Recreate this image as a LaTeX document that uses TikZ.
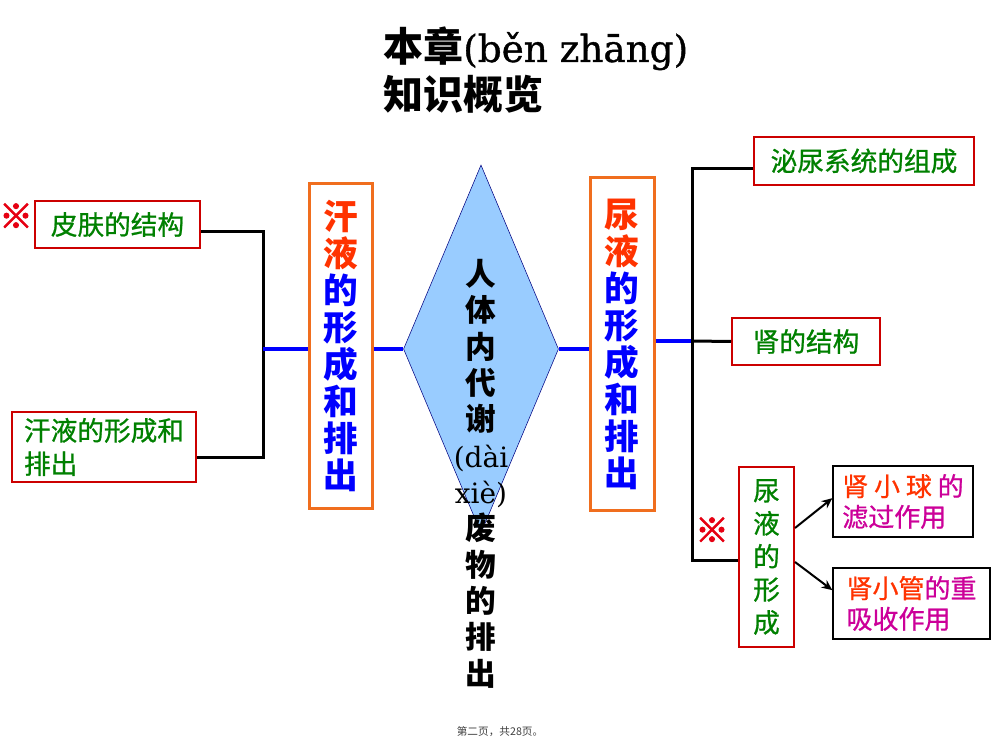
\documentclass[tikz,border=0pt]{standalone}
\usepackage{fontspec}
\setmainfont{DejaVu Serif}
\newfontfamily\pinyin{DejaVu Serif}[FakeBold=1]
\newfontfamily\cjk{Noto Sans CJK SC}
\newfontfamily\cjkheavy{Noto Sans CJK SC}[FakeBold=0.8]
\newfontfamily\cjkmark{Noto Sans CJK SC}[FakeBold=3]
\usetikzlibrary{arrows.meta,shapes.geometric}

\definecolor{boxred}{RGB}{204,0,0}
\definecolor{leafgreen}{RGB}{0,128,0}
\definecolor{boxorange}{RGB}{240,110,30}
\definecolor{hotred}{RGB}{255,51,0}
\definecolor{deepblue}{RGB}{0,0,255}
\definecolor{plum}{RGB}{204,0,153}
\definecolor{paleblue}{RGB}{153,204,255}
\definecolor{rimblue}{RGB}{0,0,128}
\definecolor{notered}{RGB}{230,0,18}

\tikzset{
  greenbox/.style={draw=boxred, line width=1.5pt, text=leafgreen, inner sep=0pt,
    font=\cjkheavy\fontsize{20}{25}\selectfont},
  bandbox/.style={draw=boxorange, line width=2.25pt, text=deepblue, inner sep=0pt,
    align=center, font=\cjk\bfseries\fontsize{26}{27.75}\selectfont},
  leafbox/.style={draw=black, line width=1pt, text=plum, inner sep=0pt, align=left,
    font=\cjkheavy\fontsize{19.5}{23}\selectfont},
  trunk/.style={draw=deepblue, line width=3pt},
  twig/.style={draw=black, line width=2.25pt},
  pointer/.style={draw=black, line width=1.5pt, -{Stealth[length=8pt,width=7pt]}},
  notemark/.style={text=notered, inner sep=0pt, font=\cjkmark\fontsize{25}{25}\selectfont},
}

\begin{document}
\begin{tikzpicture}[x=0.75pt,y=-0.75pt]
  \path[fill=white] (0,0) rectangle (993,745);
  \useasboundingbox (0,0) rectangle (993,745);

  % title
  \node[anchor=north west, align=left, inner sep=0pt, font=\fontsize{30}{36}\selectfont]
    (title) at (383,27) {{\cjk\bfseries 本章}{\pinyin\fontsize{28}{36}\selectfont(běn zhāng)}\\{\cjk\bfseries 知识概览}};

  % left side
  \node[notemark] (lmark) at (16,216) {※};
  \node[greenbox, minimum width=123.75pt, minimum height=35.25pt] (skin) at (117.5,224.5) {皮肤的结构};
  \node[greenbox, align=left, minimum width=138pt, minimum height=52.5pt] (sweat) at (104,447) {汗液的形成和\\排出};
  \node[bandbox, minimum width=47.25pt, minimum height=243.75pt] (lband) at (340.5,346)
    {\textcolor{hotred}{汗}\\\textcolor{hotred}{液}\\的\\形\\成\\和\\排\\出};

  % centre
  \node[shape=diamond, draw=rimblue, fill=paleblue, inner sep=0pt,
    minimum width=116.25pt, minimum height=276pt] (core) at (481,349) {};
  \node[anchor=north, align=center, inner sep=0pt, font=\cjk\bfseries\fontsize{23}{27.25}\selectfont]
    (coretext) at (481,259)
    {人\\体\\内\\代\\谢\\{\rmfamily\mdseries\fontsize{21}{27.25}\selectfont (dài}\\{\rmfamily\mdseries\fontsize{21}{27.25}\selectfont xiè)}\\废\\物\\的\\排\\出};

  % right side
  \node[bandbox, minimum width=48pt, minimum height=250pt] (rband) at (622,344)
    {\textcolor{hotred}{尿}\\\textcolor{hotred}{液}\\的\\形\\成\\和\\排\\出};
  \node[greenbox, minimum width=165pt, minimum height=36pt] (urinary) at (864,161) {泌尿系统的组成};
  \node[greenbox, minimum width=111pt, minimum height=35.25pt] (kidney) at (806,341.5) {肾的结构};
  \node[greenbox, align=center, minimum width=41.25pt, minimum height=135pt,
    font=\cjkheavy\fontsize{20}{24.75}\selectfont] (rform) at (766.5,557) {尿\\液\\的\\形\\成};
  \node[notemark] (rmark) at (712,530) {※};
  \node[leafbox, minimum width=105pt, minimum height=53.25pt] (glom) at (903,501.5)
    {\textcolor{hotred}{肾 小 球} 的\\滤过作用};
  \node[leafbox, minimum width=117.75pt, minimum height=53.25pt] (tubule) at (911.5,603.5)
    {\textcolor{hotred}{肾小管}的重\\吸收作用};

  % connectors
  \coordinate (lhub) at (263,349);
  \coordinate (rhub) at (692,341);
  \draw[twig] ([yshift=-5.5pt]skin.east) -| (lhub) |- ([yshift=-8pt]sweat.east);
  \draw[trunk] (lhub) -- (lhub -| lband.west);
  \draw[trunk] (lband.east |- core.west) -- (core.west);
  \draw[trunk] (core.east) -- (core.east -| rband.west);
  \draw[trunk] (rhub -| rband.east) -- (rhub);
  \draw[twig] ([yshift=-6pt]urinary.west) -| (rhub) |- ([yshift=-2.25pt]rform.west);
  \draw[twig] (rhub) -- (kidney.west);
  \draw[pointer] ([yshift=21.75pt]rform.east) -- ([yshift=2.5pt]glom.west);
  \draw[pointer] ([yshift=-3.75pt]rform.east) -- ([yshift=10pt]tubule.west);

  % footer
  \node[text=black!75, inner sep=0pt, font=\cjk\fontsize{8}{8}\selectfont] (footer) at (500,732)
    {第二页，共28页。};
\end{tikzpicture}
\end{document}
